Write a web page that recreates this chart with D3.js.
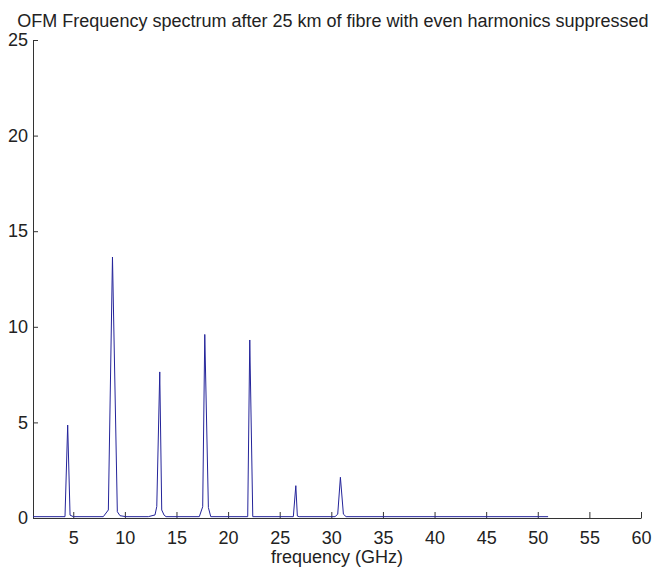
<!DOCTYPE html>
<html>
<head>
<meta charset="utf-8">
<script src="https://cdn.jsdelivr.net/npm/d3@7"></script>
<style>
  body { margin: 0; background: #fff; }
  text { font-family: "Liberation Sans", Arial, sans-serif; fill: #222; }
</style>
</head>
<body>
<div id="chart"></div>
<script>
// spectrum vertices (GHz) and amplitudes
const freq = [1.1, 4.20, 4.46, 4.69, 5.0,
    7.91, 8.40, 8.80, 9.27, 9.53, 10.11,
    12.27, 12.92, 13.09, 13.38, 13.57, 13.80, 13.99,
    17.21, 17.54, 17.74, 18.09, 18.32,
    21.90, 22.10, 22.39,
    26.32, 26.56, 26.71, 26.88,
    30.36, 30.62, 30.88, 31.17, 31.43,
    51.0];
const amp = [0.07, 0.07, 4.86, 0.15, 0.07,
    0.07, 0.42, 13.65, 0.33, 0.12, 0.07,
    0.07, 0.16, 0.6, 7.64, 0.42, 0.15, 0.07,
    0.07, 0.59, 9.6, 0.55, 0.07,
    0.07, 9.31, 0.07,
    0.07, 1.69, 0.1, 0.07,
    0.07, 0.2, 2.13, 0.2, 0.07,
    0.07];
const xTicks = [5, 10, 15, 20, 25, 30, 35, 40, 45, 50, 55, 60];
const yTicks = [0, 5, 10, 15, 20, 25];

const width = 653, height = 569;
const margin = { top: 40, right: 12, bottom: 51, left: 33 };
const w = width - margin.left - margin.right;
const h = height - margin.top - margin.bottom;

const svg = d3.select("#chart").append("svg")
    .attr("width", width)
    .attr("height", height);

const g = svg.append("g")
    .attr("transform", "translate(" + margin.left + "," + margin.top + ")");

const x = d3.scaleLinear().domain([1.1, 60]).range([0, w]);
const y = d3.scaleLinear().domain([0, 25]).range([h, 0]);

// x axis, ticks pointing inward
const xAxis = g.append("g")
    .attr("transform", "translate(0," + h + ")")
    .call(d3.axisBottom(x).tickValues(xTicks).tickSizeInner(-6).tickSizeOuter(0).tickPadding(13));
// y axis
const yAxis = g.append("g")
    .call(d3.axisLeft(y).tickValues(yTicks).tickSizeInner(-5).tickSizeOuter(0).tickPadding(5));

[xAxis, yAxis].forEach(a => {
    a.selectAll("path, line").attr("stroke", "#333");
    a.selectAll("text").style("font-size", "18px").attr("fill", "#222");
});

// the spectrum
const line = d3.line()
    .x((d, i) => x(freq[i]))
    .y(d => y(d));

g.append("path")
    .datum(amp)
    .attr("d", line)
    .attr("fill", "none")
    .attr("stroke", "#24249a")
    .attr("stroke-width", 1);

// title and label
svg.append("text")
    .attr("x", 333)
    .attr("y", 27)
    .attr("text-anchor", "middle")
    .style("font-size", "18px")
    .text("OFM Frequency spectrum after 25 km of fibre with even harmonics suppressed");

svg.append("text")
    .attr("x", margin.left + w / 2)
    .attr("y", 563)
    .attr("text-anchor", "middle")
    .style("font-size", "18px")
    .text("frequency (GHz)");
</script>
</body>
</html>
